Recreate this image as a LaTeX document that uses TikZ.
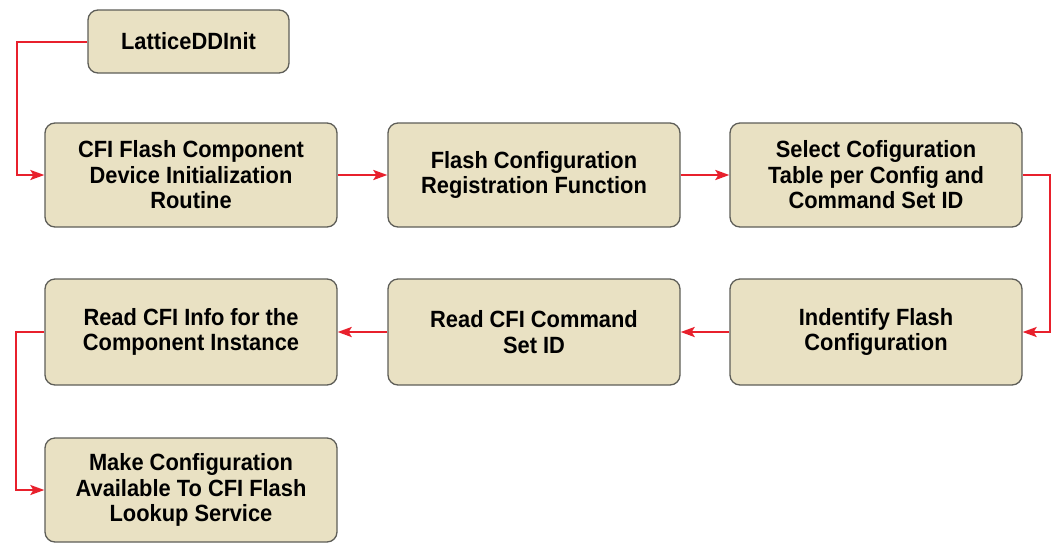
\documentclass[tikz,border=0pt]{standalone}
\usepackage{fontspec}
\setmainfont{Liberation Sans}[FakeStretch=0.93]
\usetikzlibrary{arrows.meta}
\definecolor{boxfill}{HTML}{E9E1C3}
\definecolor{boxline}{HTML}{5E5E58}
\definecolor{flowred}{HTML}{E8202C}
\begin{document}
\begin{tikzpicture}[x=1pt,y=-1pt,
  stepbox/.style={draw=boxline, line width=1.3pt, fill=boxfill, rounded corners=10pt,
    align=center, font=\fontsize{23.5}{25.5}\selectfont\bfseries, inner sep=0pt},
  flow/.style={draw=flowred, line width=2.6pt, -{Stealth[length=14pt,width=10pt,inset=3pt]}},
  elbow/.style={draw=flowred, line width=2pt, -{Stealth[length=14pt,width=10pt,inset=3pt]}}]
\useasboundingbox (0,0) rectangle (1052,542);
\node[stepbox, minimum width=201pt, minimum height=63pt] (init) at (188.5,41.5) {LatticeDDInit};
\node[stepbox, minimum width=292pt, minimum height=104pt] (cfi) at (191,175) {CFI Flash Component\\Device Initialization\\Routine};
\node[stepbox, minimum width=292pt, minimum height=104pt] (reg) at (534,175) {Flash Configuration\\Registration Function};
\node[stepbox, minimum width=292pt, minimum height=104pt] (sel) at (876,175) {Select Cofiguration\\Table per Config and\\Command Set ID};
\node[stepbox, minimum width=292pt, minimum height=106pt] (ident) at (876,332) {Indentify Flash\\Configuration};
\node[stepbox, minimum width=292pt, minimum height=106pt] (rcmd) at (534,332) {Read CFI Command\\Set ID};
\node[stepbox, minimum width=292pt, minimum height=106pt] (rinfo) at (191,332) {Read CFI Info for the\\Component Instance};
\node[stepbox, minimum width=292pt, minimum height=104pt] (make) at (191,490) {Make Configuration\\Available To CFI Flash\\Lookup Service};
\coordinate (c1) at (17,41.5);
\coordinate (c2) at (1050,175);
\coordinate (c3) at (16,332);
\draw[elbow] (init.west) -- (c1) |- (cfi.west);
\draw[flow] (cfi.east) -- (reg.west);
\draw[flow] (reg.east) -- (sel.west);
\draw[elbow] (sel.east) -- (c2) |- (ident.east);
\draw[flow] (ident.west) -- (rcmd.east);
\draw[flow] (rcmd.west) -- (rinfo.east);
\draw[elbow] (rinfo.west) -- (c3) |- (make.west);
\end{tikzpicture}
\end{document}
